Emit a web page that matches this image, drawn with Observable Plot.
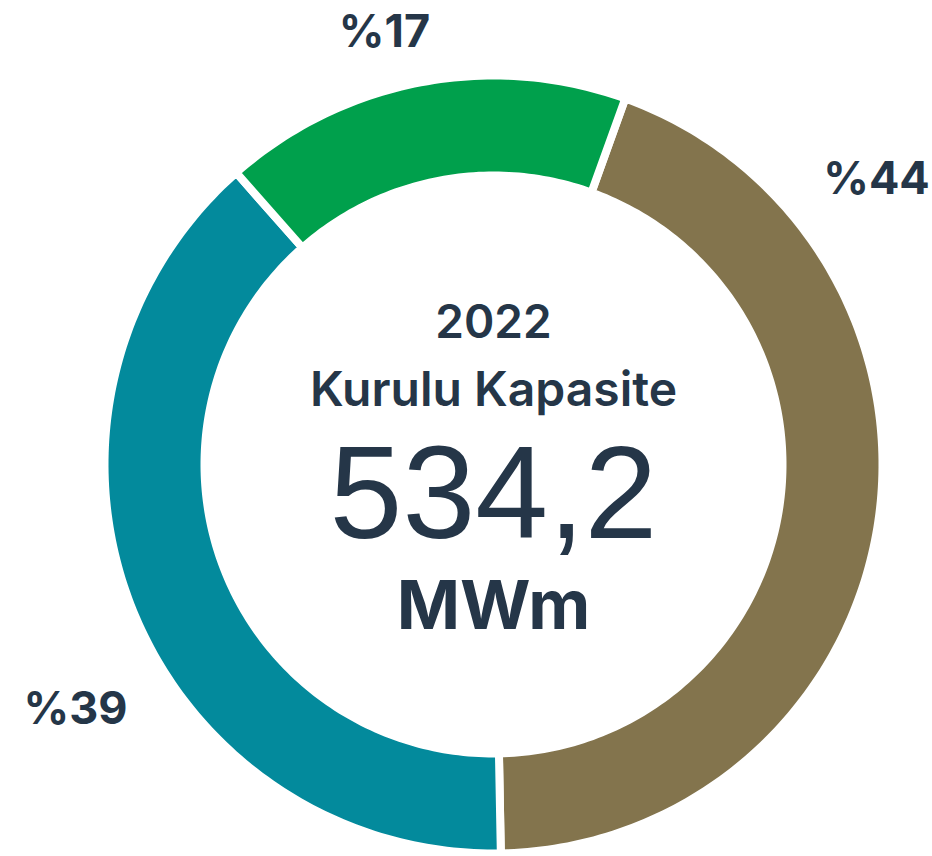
<!DOCTYPE html>
<html><head><meta charset="utf-8">
<script src="https://cdn.jsdelivr.net/npm/d3@7"></script>
<script src="https://cdn.jsdelivr.net/npm/@observablehq/plot@0.6"></script>
<style>body{margin:0;background:#fff}</style>
</head><body><div id="chart"></div>
<script>
// ---- data ----
const categories = ["kahverengi", "turkuaz", "yeşil"];
const shares = [44.2, 38.8, 17.0];
const shareLabels = ["%44", "%39", "%17"];
const colors = ["#83744d", "#038a9c", "#00a04c"];
const centerYear = "2022";
const centerTitle = "Kurulu Kapasite";
const centerValue = "534,2";
const centerUnit = "MWm";

// ---- layout ----
const W = 932, H = 856;
const cx = 493, cy = 464;
const outerR = 389, innerR = 289, gap = 8;
const startDeg = 19.8;
const labelPos = [[383, 271], [-418, -259], [-109, 418]]; // baseline anchors, px from centre
const ink = "#253648";
const font = "Inter, 'Noto Sans', sans-serif";

const pie = d3.pie().sort(null).value(d => d)
  .startAngle(startDeg * Math.PI / 180)
  .endAngle(startDeg * Math.PI / 180 + 2 * Math.PI);
const arcs = pie(shares);

const ring = [];
arcs.forEach((a, i) => {
  const steps = Math.max(2, Math.ceil((a.endAngle - a.startAngle) * 180 / Math.PI));
  const outer = d3.range(steps + 1).map(k => a.startAngle + (a.endAngle - a.startAngle) * k / steps);
  outer.forEach(t => ring.push({cat: categories[i], x: outerR * Math.sin(t), y: outerR * Math.cos(t)}));
  outer.slice().reverse().forEach(t => ring.push({cat: categories[i], x: innerR * Math.sin(t), y: innerR * Math.cos(t)}));
});

const labels = shareLabels.map((t, i) => ({text: t, x: labelPos[i][0], y: labelPos[i][1]}));

const plot = Plot.plot({
  width: W, height: H,
  margin: 0,
  x: {domain: [-cx, W - cx], axis: null},
  y: {domain: [-(H - cy), cy], axis: null},
  color: {domain: categories, range: colors},
  style: {background: "#fff", fontFamily: font},
  marks: [
    Plot.line(ring, {x: "x", y: "y", z: "cat", fill: "cat", stroke: "#fff", strokeWidth: gap, curve: "linear-closed"}),
    Plot.text(labels, {x: "x", y: "y", text: "text", fill: ink, fontSize: 45, fontWeight: 700, lineAnchor: "bottom", textAnchor: "middle"}),
    Plot.text([centerYear], {x: () => 0, y: () => 127, text: d => d, fill: ink, fontSize: 46, fontWeight: 600, lineAnchor: "bottom", textAnchor: "middle"}),
    Plot.text([centerTitle], {x: () => 0, y: () => 59, text: d => d, fill: ink, fontSize: 48, fontWeight: 600, lineAnchor: "bottom", textAnchor: "middle"}),
    Plot.text([centerValue], {x: () => 0, y: () => -73, text: d => d, fill: ink, fontSize: 131, fontWeight: 400, fontFamily: "'Liberation Sans', Arial, sans-serif", lineAnchor: "bottom", textAnchor: "middle"}),
    Plot.text([centerUnit], {x: () => 0, y: () => -164, text: d => d, fill: ink, fontSize: 68, fontWeight: 700, lineAnchor: "bottom", textAnchor: "middle"})
  ]
});
document.getElementById("chart").appendChild(plot);
</script>
</body></html>
